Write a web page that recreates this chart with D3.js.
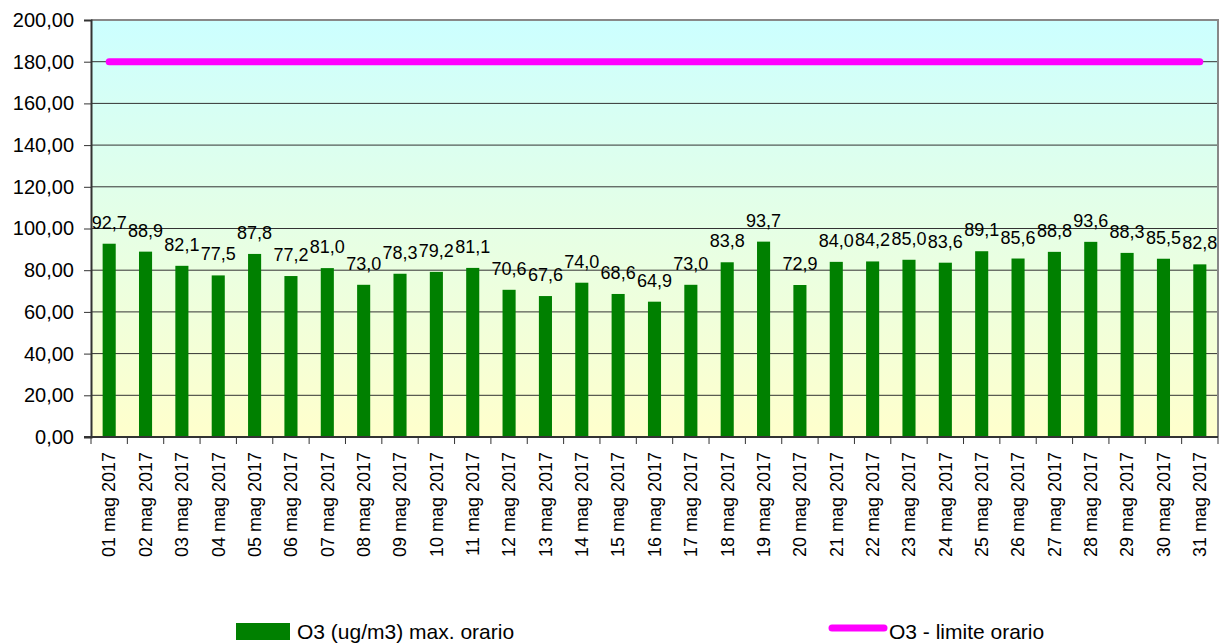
<!DOCTYPE html>
<html>
<head>
<meta charset="utf-8">
<script src="https://cdn.jsdelivr.net/npm/d3@7"></script>
<style>
  body { margin: 0; background: #fff; }
  svg { display: block; font-family: "Liberation Sans", Arial, sans-serif; }
</style>
</head>
<body>
<div id="chart"></div>
<script>
// data
const days = [];
for (let d = 1; d <= 31; d++) days.push((d < 10 ? "0" + d : "" + d) + " mag 2017");
const o3Max = [92.7, 88.9, 82.1, 77.5, 87.8, 77.2, 81.0, 73.0, 78.3, 79.2, 81.1,
               70.6, 67.6, 74.0, 68.6, 64.9, 73.0, 83.8, 93.7, 72.9, 84.0, 84.2,
               85.0, 83.6, 89.1, 85.6, 88.8, 93.6, 88.3, 85.5, 82.8];
const limit = 180;
const yTicks = [0, 20, 40, 60, 80, 100, 120, 140, 160, 180, 200];
const seriesNames = ["O3 (ug/m3) max. orario", "O3 - limite orario"];

const width = 1226, height = 644;
const plot = { left: 91, right: 1218, top: 20, bottom: 437 };
const fmt = v => v.toFixed(2).replace(".", ",");
const fmt1 = v => v.toFixed(1).replace(".", ",");

const svg = d3.select("#chart").append("svg")
    .attr("width", width)
    .attr("height", height);

const x = d3.scaleBand()
    .domain(days)
    .range([plot.left, plot.right])
    .paddingInner(0.64)
    .paddingOuter(0.32);

const y = d3.scaleLinear()
    .domain([0, 200])
    .range([plot.bottom, plot.top]);

// background gradient
const grad = svg.append("defs").append("linearGradient")
    .attr("id", "bg").attr("x1", 0).attr("y1", 0).attr("x2", 0).attr("y2", 1);
grad.append("stop").attr("offset", "0%").attr("stop-color", "#ccffff");
grad.append("stop").attr("offset", "100%").attr("stop-color", "#ffffcc");

svg.append("rect")
    .attr("x", plot.left).attr("y", plot.top)
    .attr("width", plot.right - plot.left)
    .attr("height", plot.bottom - plot.top)
    .attr("fill", "url(#bg)");

// gridlines
svg.append("g")
   .selectAll("line")
   .data(yTicks.filter(t => t > 0 && t < 200))
   .enter()
   .append("line")
   .attr("x1", plot.left).attr("x2", plot.right)
   .attr("y1", d => y(d)).attr("y2", d => y(d))
   .attr("stroke", "#333")
   .attr("stroke-width", 1);

// plot border (top/right grey)
svg.append("path")
   .attr("d", `M${plot.left},${plot.top}H${plot.right}V${plot.bottom}`)
   .attr("fill", "none")
   .attr("stroke", "#888")
   .attr("stroke-width", 2);

// bars
svg.append("g")
   .selectAll("rect")
   .data(o3Max)
   .enter()
   .append("rect")
   .attr("x", (d, i) => x(days[i]))
   .attr("y", d => y(d))
   .attr("width", x.bandwidth())
   .attr("height", d => y(0) - y(d))
   .attr("fill", "#008000");

// value labels
svg.append("g")
   .selectAll("text")
   .data(o3Max)
   .enter()
   .append("text")
   .attr("x", (d, i) => x(days[i]) + x.bandwidth() / 2)
   .attr("y", d => y(d) - 15)
   .attr("text-anchor", "middle")
   .attr("font-size", 18)
   .attr("fill", "#000")
   .text(d => fmt1(d));

// limit line
const line = d3.line()
    .x(d => x(d) + x.bandwidth() / 2)
    .y(() => y(limit));
svg.append("path")
   .datum(days)
   .attr("d", line)
   .attr("fill", "none")
   .attr("stroke", "#ff00ff")
   .attr("stroke-width", 7)
   .attr("stroke-linecap", "round");

// y axis
const yAxis = svg.append("g")
    .attr("transform", `translate(${plot.left},0)`)
    .call(d3.axisLeft(y).tickValues(yTicks).tickFormat(fmt).tickSizeOuter(0).tickSize(7).tickPadding(10));
yAxis.select(".domain").attr("stroke", "#333").attr("stroke-width", 2);
yAxis.selectAll(".tick line").attr("stroke", "#333");
yAxis.selectAll("text").attr("font-size", 20).attr("fill", "#000")
     .attr("font-family", "Liberation Sans, Arial, sans-serif");

// x axis
svg.append("line")
   .attr("x1", plot.left - 7).attr("x2", plot.right)
   .attr("y1", plot.bottom).attr("y2", plot.bottom)
   .attr("stroke", "#333").attr("stroke-width", 2);

const bounds = d3.range(days.length + 1).map(i => plot.left + i * x.step());
svg.append("g")
   .selectAll("line")
   .data(bounds)
   .enter()
   .append("line")
   .attr("x1", d => d).attr("x2", d => d)
   .attr("y1", plot.bottom).attr("y2", plot.bottom + 7)
   .attr("stroke", "#333");

svg.append("g")
   .selectAll("text")
   .data(days)
   .enter()
   .append("text")
   .attr("transform", d => `translate(${x(d) + x.bandwidth() / 2},${plot.bottom + 15}) rotate(-90)`)
   .attr("text-anchor", "end")
   .attr("dy", "0.35em")
   .attr("font-size", 18)
   .attr("fill", "#000")
   .text(d => d);

// legend
const legend = svg.append("g");
legend.append("rect")
      .attr("x", 236).attr("y", 623)
      .attr("width", 54).attr("height", 17)
      .attr("fill", "#008000");
legend.append("text")
      .attr("x", 297).attr("y", 639)
      .attr("font-size", 21)
      .text(seriesNames[0]);
legend.append("line")
      .attr("x1", 832).attr("x2", 884)
      .attr("y1", 628).attr("y2", 628)
      .attr("stroke", "#ff00ff")
      .attr("stroke-width", 7)
      .attr("stroke-linecap", "round");
legend.append("text")
      .attr("x", 889).attr("y", 639)
      .attr("font-size", 21)
      .text(seriesNames[1]);
</script>
</body>
</html>
